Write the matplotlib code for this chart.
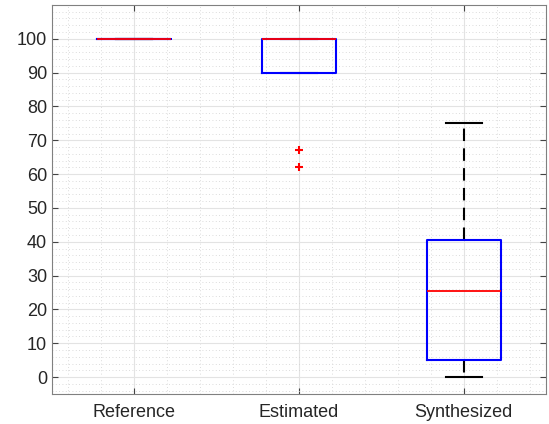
import matplotlib.pyplot as plt
from matplotlib.ticker import MultipleLocator, FixedLocator

labels = ['Reference', 'Estimated', 'Synthesized']
q1 = [100, 90, 5]
med = [100, 100, 25.5]
q3 = [100, 100, 40.5]
whislo = [100, 90, 0]
whishi = [100, 100, 75]
fliers = [[], [67, 62], []]
yticks = [0, 10, 20, 30, 40, 50, 60, 70, 80, 90, 100]

stats = []
for i in range(3):
    stats.append(dict(label=labels[i], q1=q1[i], med=med[i], q3=q3[i],
                      whislo=whislo[i], whishi=whishi[i], fliers=fliers[i]))

plt.rcParams['font.family'] = ['Liberation Sans', 'DejaVu Sans']
fig = plt.figure(figsize=(5.49, 4.24), dpi=100)
ax = fig.add_axes([0.0947, 0.0708, 0.8998, 0.9175])

ax.bxp(stats, widths=0.45,
       boxprops=dict(color='#0000ff', linewidth=1.5, zorder=4),
       medianprops=dict(color='#ff0000', linewidth=1.3, zorder=5),
       whiskerprops=dict(color='black', linewidth=1.5, linestyle=(0, (6, 3.5)), zorder=3),
       capprops=dict(color='black', linewidth=1.5, zorder=3),
       capwidths=0.22,
       flierprops=dict(marker='+', markeredgecolor='#ff0000', markersize=6,
                       markeredgewidth=1.5, linestyle='none', zorder=5))

ax.set_xlim(0.5, 3.5)
ax.set_ylim(-5, 110)
ax.yaxis.set_major_locator(FixedLocator(yticks))
ax.yaxis.set_minor_locator(MultipleLocator(2))
ax.xaxis.set_minor_locator(MultipleLocator(0.2))
ax.grid(True, which='major', color='#e3e3e3', linewidth=0.8, zorder=0)
ax.grid(True, which='minor', color='#d0d0d0', linewidth=0.6, linestyle=(0, (1, 3)), zorder=0)
ax.set_axisbelow(True)
ax.tick_params(which='major', direction='in', top=True, right=True, length=4,
               color='#444444', labelsize=13, labelcolor='#262626')
ax.tick_params(axis='x', which='major', pad=7)
ax.tick_params(which='minor', length=0)
for s in ax.spines.values():
    s.set_color('#808080')
    s.set_linewidth(0.8)

fig.savefig('out.png', dpi=100)
